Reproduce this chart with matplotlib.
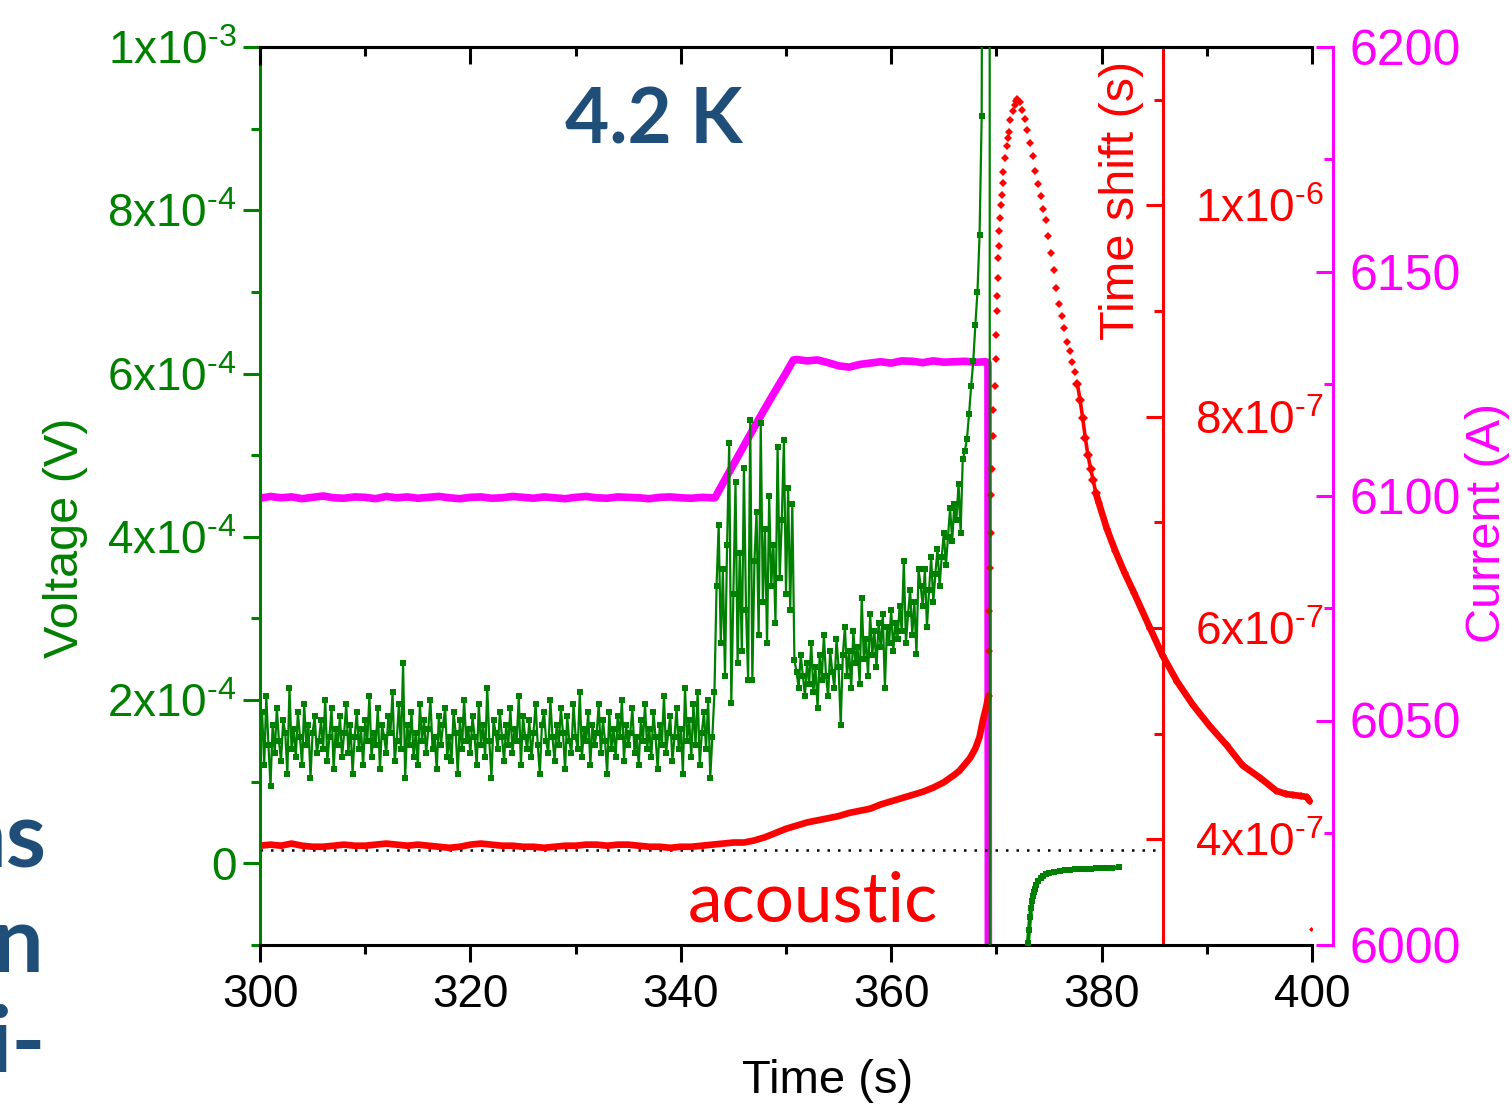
import numpy as np
import matplotlib
matplotlib.use("Agg")
import matplotlib.pyplot as plt
from matplotlib.ticker import MultipleLocator, FixedLocator, FixedFormatter, StrMethodFormatter
from matplotlib.mathtext import MathTextParser

GREEN = "#008000"
RED = "#FF0000"
MAGENTA = "#FF00FF"
NAVY = "#1F4E79"

plt.rcParams["font.family"] = ["Liberation Sans", "DejaVu Sans"]
plt.rcParams["mathtext.fontset"] = "custom"
plt.rcParams["mathtext.rm"] = "Liberation Sans"
plt.rcParams["mathtext.it"] = "Liberation Sans"
plt.rcParams["mathtext.bf"] = "Liberation Sans:bold"

# ---------------- Voltage (units of 1e-4 V), sampled every 0.2 s from 300 s
volt_step = 0.2
volt_quiet = [
    1.55, 1.85, 1.20, 2.05, 1.45, 0.95, 1.70, 1.35, 1.90, 1.50,
    1.25, 1.75, 1.60, 1.10, 2.15, 1.40, 1.65, 1.30, 1.85, 1.55,
    1.20, 1.95, 1.45, 1.70, 1.05, 1.60, 1.80, 1.35, 1.50, 1.75,
    1.40, 2.00, 1.25, 1.55, 1.90, 1.15, 1.65, 1.45, 1.80, 1.30,
    1.60, 1.95, 1.35, 1.70, 1.10, 1.55, 1.85, 1.40, 1.65, 1.20,
    1.75, 1.50, 2.05, 1.30, 1.60, 1.45, 1.90, 1.15, 1.70, 1.55,
    1.35, 1.80, 1.60, 2.10, 1.25, 1.50, 1.95, 1.40, 2.45, 1.05,
    1.70, 1.45, 1.85, 1.30, 1.60, 1.20, 1.95, 1.50, 1.75, 1.35,
    1.65, 2.00, 1.40, 1.55, 1.15, 1.80, 1.45, 1.70, 1.90, 1.30,
    1.55, 1.25, 1.85, 1.60, 1.10, 1.75, 1.40, 2.00, 1.50, 1.65,
    1.35, 1.80, 1.55, 1.20, 1.95, 1.45, 1.70, 1.30, 2.15, 1.50,
    1.05, 1.75, 1.60, 1.40, 1.85, 1.55, 1.25, 1.70, 1.45, 1.90,
    1.35, 1.65, 1.50, 2.05, 1.20, 1.80, 1.55, 1.40, 1.75, 1.30,
    1.60, 1.95, 1.45, 1.10, 1.70, 1.85, 1.50, 1.35, 2.00, 1.55,
    1.25, 1.70, 1.45, 1.90, 1.60, 1.15, 1.80, 1.50, 1.35, 1.95,
    1.55, 1.40, 2.10, 1.30, 1.65, 1.50, 1.85, 1.20, 1.70, 1.45,
    1.60, 1.95, 1.35, 1.75, 1.50, 1.10, 1.85, 1.40, 1.65, 1.30,
    1.80, 1.55, 2.00, 1.25, 1.70, 1.45, 1.60, 1.90, 1.35, 1.55,
    1.20, 1.75, 1.50, 1.95, 1.40, 1.65, 1.30, 1.85, 1.55, 1.15,
    1.70, 1.45, 2.05, 1.35, 1.60, 1.80, 1.25, 1.55, 1.90, 1.40,
    1.65, 1.10, 2.15, 1.50, 1.75, 1.30, 1.95, 1.45, 2.10, 1.20,
    1.60, 1.85, 1.40, 2.00, 1.05,
]
volt_ramp = [
    1.55, 2.10, 3.40, 4.15, 2.70, 3.60, 2.30, 3.90, 5.15, 1.97,
    3.30, 4.67, 2.46, 3.80, 2.60, 4.84, 3.10, 2.25, 5.43, 2.24,
    3.70, 4.30, 2.80, 5.39, 3.20, 4.10, 2.70, 4.50, 3.40, 3.90,
    2.95, 5.10, 3.50, 4.20, 5.18, 3.30, 4.60, 3.10, 4.40,
]
volt_flat = [
    2.49, 2.35, 2.15, 2.55, 2.30, 2.05, 2.45, 2.20, 2.70, 2.10,
    2.40, 1.90, 2.55, 2.25, 2.80, 2.30, 2.05, 2.60, 2.35, 2.15,
    2.75, 2.40, 1.70, 2.55, 2.90, 2.30, 2.60, 2.15, 2.85, 2.45,
    2.65, 2.20, 3.25, 2.50, 2.75, 2.30, 3.05, 2.55, 2.85, 2.40,
    2.95, 2.65, 3.05, 2.15, 2.90, 2.70, 3.10, 2.60, 2.95, 2.75,
    3.15, 2.85, 3.70, 2.70, 3.05, 3.35, 2.80, 3.20, 2.57, 3.60,
    3.40, 3.15, 3.60, 2.90, 3.35, 3.75, 3.20, 3.55, 3.85, 3.40,
    3.75, 4.05, 3.65, 4.00, 4.35, 3.95, 4.40, 4.20, 4.65, 4.05,
    4.95, 5.05, 5.20, 5.50, 5.85, 6.15, 6.60, 7.00, 7.70, 9.15,
]
# runaway: the signal leaves the scale and comes back below it
volt_runaway_t = [368.8, 369.35, 369.4]
volt_runaway_v = [20.0, 20.0, -20.0]
# recovery after the quench
volt_rec_t = [373.0, 373.1, 373.2, 373.3, 373.4, 373.5, 373.6, 373.7, 373.8,
              374.0, 374.2, 374.4, 374.7, 375.0, 375.5, 376.0, 376.5, 377.0,
              377.5, 378.0, 378.5, 379.0, 379.5, 380.0, 380.5, 381.0, 381.7]
volt_rec_v = [-0.97, -0.82, -0.66, -0.55, -0.46, -0.40, -0.35, -0.31, -0.27,
              -0.22, -0.18, -0.16, -0.13, -0.12, -0.10, -0.09, -0.085, -0.08,
              -0.075, -0.07, -0.07, -0.065, -0.06, -0.06, -0.055, -0.055, -0.05]

# ---------------- Current (A)
cur_hold1 = [
    6099.5, 6099.9, 6099.6, 6099.8, 6099.4, 6099.7, 6100.0, 6099.6, 6099.5, 6099.8,
    6099.7, 6099.4, 6099.9, 6099.6, 6099.8, 6099.5, 6099.7, 6099.9, 6099.6, 6099.4,
    6099.7, 6099.8, 6099.5, 6099.6, 6099.9, 6099.7, 6099.5, 6099.8, 6099.6, 6099.4,
    6099.7, 6099.9, 6099.6, 6099.5, 6099.8, 6099.7, 6099.6, 6099.4, 6099.7, 6099.8,
    6099.6, 6099.5, 6099.7, 6099.6,
]  # one reading per second, 300 s .. 343 s
cur_ramp_t = [343.25, 344.0, 345.0, 346.0, 347.0, 348.0, 349.0, 350.0, 350.7]
cur_ramp_v = [6099.6, 6102.8, 6107.0, 6111.2, 6115.4, 6119.5, 6123.5, 6127.4, 6130.3]
cur_hold2_t = [351, 352, 353, 354, 355, 356, 357, 358, 359, 360,
               361, 362, 363, 364, 365, 366, 367, 368, 369, 369.2, 369.25]
cur_hold2_v = [6130.4, 6130.1, 6130.3, 6129.7, 6129.0, 6128.7, 6129.3, 6129.6, 6129.9,
               6129.6, 6130.1, 6130.0, 6129.7, 6130.1, 6129.8, 6129.9, 6130.0, 6129.8,
               6129.9, 6129.6, 5950.0]

# ---------------- Acoustic time shift (units of 1e-7 s)
shift_base = [
    3.94, 3.95, 3.94, 3.96, 3.94, 3.93, 3.93, 3.94, 3.95, 3.94,
    3.94, 3.95, 3.96, 3.95, 3.94, 3.95, 3.94, 3.93, 3.92, 3.93,
    3.95, 3.96, 3.95, 3.94, 3.94, 3.93, 3.93, 3.92, 3.93, 3.94,
    3.94, 3.95, 3.95, 3.94, 3.95, 3.95, 3.94, 3.93, 3.93, 3.92,
    3.93, 3.93, 3.94, 3.95, 3.96, 3.97,
]  # one reading per second, 300 s .. 345 s
shift_rise_t = [346, 347, 348, 349, 350, 351, 352, 353, 354, 355, 356, 357, 358, 359,
                360, 361, 362, 363, 364, 365, 366, 366.5, 367, 367.5, 368, 368.4, 368.7, 369.0]
shift_rise_v = [3.97, 3.99, 4.02, 4.06, 4.10, 4.13, 4.16, 4.18, 4.20, 4.22, 4.25, 4.27,
                4.29, 4.33, 4.36, 4.39, 4.42, 4.45, 4.49, 4.54, 4.61, 4.65, 4.71, 4.77,
                4.86, 4.97, 5.12, 5.24]
shift_jump_t = [369.25, 369.30, 369.34, 369.39, 369.44, 369.53, 369.58, 369.65, 369.71, 369.87,
                369.96, 370.00, 370.03, 370.09, 370.12, 370.18, 370.22, 370.28, 370.34, 370.41,
                370.50, 370.60, 370.66, 370.82, 370.98, 371.10, 371.23, 371.29, 371.61, 371.77,
                371.86, 371.99]
shift_jump_v = [5.36, 5.78, 6.16, 6.57, 6.90, 7.26, 7.51, 7.82, 8.06, 8.29,
                8.55, 8.77, 9.00, 9.14, 9.31, 9.50, 9.62, 9.76, 9.88, 10.00,
                10.10, 10.21, 10.32, 10.45, 10.56, 10.64, 10.70, 10.81, 10.89, 10.95,
                10.99, 11.01]
shift_fall_t = [372.2, 372.45, 372.7, 372.95, 373.2, 373.45, 373.7, 373.95, 374.2, 374.45,
                374.7, 374.95, 375.2, 375.45, 375.7, 375.95, 376.2, 376.45, 376.7, 376.95,
                377.2, 377.45]
shift_fall_v = [10.98, 10.90, 10.82, 10.71, 10.59, 10.47, 10.33, 10.20, 10.09, 9.97,
                9.86, 9.71, 9.55, 9.39, 9.22, 9.07, 8.95, 8.84, 8.71, 8.62,
                8.52, 8.42]
shift_tail_t = [377.7, 377.95, 378.2, 378.45, 378.7, 378.95, 379.2, 379.45,
                379.75, 380.5, 381.3, 382.2, 383.1, 384.6, 385.8, 387.2, 388.7, 390.3,
                391.9, 393.4, 395.1, 396.6, 397.5, 398.2, 399.0, 399.5, 399.8]
shift_tail_v = [8.31, 8.16, 7.99, 7.80, 7.64, 7.51, 7.40, 7.28,
                7.18, 6.94, 6.73, 6.52, 6.33, 6.00, 5.74, 5.49, 5.27, 5.07,
                4.89, 4.70, 4.58, 4.46, 4.43, 4.42, 4.41, 4.40, 4.36]
shift_last_t = [399.9]
shift_last_v = [3.15]
shift_ref = 3.90  # reference level of the acoustic signal (1e-7 s)

# ---------------- axis ticks
x_ticks = [300, 320, 340, 360, 380, 400]
volt_ticks = [0, 2e-4, 4e-4, 6e-4, 8e-4, 1e-3]
volt_mant_exp = [(2, 4), (4, 4), (6, 4), (8, 4), (1, 3)]
shift_ticks = [4e-7, 6e-7, 8e-7, 1e-6]
shift_mant_exp = [(4, 7), (6, 7), (8, 7), (1, 6)]
cur_ticks = [6000, 6050, 6100, 6150, 6200]


def _hyphen_ok():
    try:
        MathTextParser("agg").parse(r"$\mathregular{1x10^{\text{-}3}}$", dpi=100)
        return True
    except Exception:
        return False


_HYPHEN = r"\text{-}" if _hyphen_ok() else "-"


def sci_label(m, e):
    return r"$\mathregular{%dx10^{%s%d}}$" % (m, _HYPHEN, e)


volt_tick_labels = ["0"] + [sci_label(m, e) for m, e in volt_mant_exp]
shift_tick_labels = [sci_label(m, e) for m, e in shift_mant_exp]

# ---------------- assemble arrays
volt_all = np.array(volt_quiet + volt_ramp + volt_flat)
volt_t = 300.0 + volt_step * np.arange(len(volt_all))
volt_line_t = np.concatenate([volt_t, volt_runaway_t])
volt_line_v = np.concatenate([volt_all, volt_runaway_v]) * 1e-4

cur_t = np.concatenate([300.0 + np.arange(len(cur_hold1)), cur_ramp_t, cur_hold2_t])
cur_v = np.concatenate([cur_hold1, cur_ramp_v, cur_hold2_v])

shift_line1_t = np.concatenate([300.0 + np.arange(len(shift_base)), shift_rise_t, shift_jump_t[:1]])
shift_line1_v = np.concatenate([shift_base, shift_rise_v, shift_jump_v[:1]]) * 1e-7

# ---------------- figure
W, H = 1512, 1105
fig = plt.figure(figsize=(W / 100, H / 100), dpi=100)
ax = fig.add_axes([260 / W, 160 / H, 1052 / W, 898 / H])
ax_m = ax.twinx()
ax_r = ax.twinx()
ax.set_zorder(3)
ax.patch.set_visible(False)
ax_r.set_zorder(2)
ax_m.set_zorder(1)

LW = 2.2
# --- current
ax_m.plot(cur_t, cur_v, color=MAGENTA, lw=5.5, solid_joinstyle="round", zorder=2)
ax_m.set_ylim(6000, 6200)

# --- time shift
ax_r.plot([300, 385.85], [shift_ref * 1e-7] * 2, color="black", lw=1.8,
          linestyle=(0, (1, 3.2)), zorder=1)
ax_r.plot(shift_line1_t, shift_line1_v, color=RED, lw=4.8, solid_capstyle="round", zorder=3)
ax_r.plot(shift_jump_t, np.array(shift_jump_v) * 1e-7, linestyle="none", marker="D",
          ms=3.8, color=RED, mew=0, zorder=3)
ax_r.plot(shift_fall_t, np.array(shift_fall_v) * 1e-7, linestyle="none", marker="D",
          ms=4.0, color=RED, mew=0, zorder=3)
ax_r.plot(shift_tail_t[:8], np.array(shift_tail_v[:8]) * 1e-7, color=RED, lw=2.6,
          marker="D", ms=4.6, mew=0, zorder=3)
ax_r.plot(shift_tail_t[7:], np.array(shift_tail_v[7:]) * 1e-7, color=RED, lw=4.8,
          solid_capstyle="round", marker="D", ms=4.0, mew=0, zorder=3)
ax_r.plot(shift_last_t, np.array(shift_last_v) * 1e-7, linestyle="none", marker="D",
          ms=2.5, color=RED, mew=0, zorder=3)
ax_r.set_ylim(3.0e-7, 1.15e-6)

# --- voltage
ax.plot(volt_line_t, volt_line_v, color=GREEN, lw=1.6, marker="s", ms=4.8, mew=0, zorder=4)
ax.plot(volt_rec_t, np.array(volt_rec_v) * 1e-4, color=GREEN, lw=3.0, marker="s",
        ms=4.6, mew=0, zorder=4)
ax.set_xlim(300, 400)
ax.set_ylim(-1e-4, 1e-3)

# ---------------- spines
for side in ("left", "top", "bottom"):
    ax_m.spines[side].set_visible(False)
    ax_r.spines[side].set_visible(False)
ax.spines["right"].set_visible(False)
ax.spines["top"].set_linewidth(LW)
ax.spines["bottom"].set_linewidth(LW)
ax.spines["left"].set_linewidth(LW)
ax.spines["left"].set_color(GREEN)
ax.spines["left"].set_bounds(-1e-4, 9.78e-4)
ax.plot([300, 300], [9.78e-4, 1e-3], color="black", lw=LW, clip_on=False, zorder=5,
        solid_capstyle="butt")

ax_r.spines["right"].set_position(("axes", 903 / 1052))
ax_r.spines["right"].set_color(RED)
ax_r.spines["right"].set_linewidth(LW)
ax_m.spines["right"].set_position(("axes", 1073 / 1052))
ax_m.spines["right"].set_color(MAGENTA)
ax_m.spines["right"].set_linewidth(LW)

# ---------------- ticks
TICK_FS = 33
ax.xaxis.set_major_locator(FixedLocator(x_ticks))
ax.xaxis.set_minor_locator(MultipleLocator(10))
ax.xaxis.set_major_formatter(StrMethodFormatter("{x:.0f}"))
ax.tick_params(axis="x", which="both", direction="out", width=LW, colors="black",
               labelsize=TICK_FS, pad=8, top=False)
ax.tick_params(axis="x", which="major", length=12.5)
ax.tick_params(axis="x", which="minor", length=6.5)

top = ax.secondary_xaxis("top")
top.xaxis.set_major_locator(FixedLocator(x_ticks))
top.xaxis.set_minor_locator(MultipleLocator(10))
top.tick_params(axis="x", which="both", direction="in", width=LW, labeltop=False)
top.tick_params(axis="x", which="major", length=12.5)
top.tick_params(axis="x", which="minor", length=6.5)
top.spines["top"].set_linewidth(LW)

ax.yaxis.set_major_locator(FixedLocator(volt_ticks))
ax.yaxis.set_major_formatter(FixedFormatter(volt_tick_labels))
ax.yaxis.set_minor_locator(MultipleLocator(1e-4))
ax.tick_params(axis="y", which="both", direction="out", width=LW, colors=GREEN,
               labelsize=TICK_FS, pad=4, right=False)
ax.tick_params(axis="y", which="major", length=12.5)
ax.tick_params(axis="y", which="minor", length=6.5)

ax_r.yaxis.set_major_locator(FixedLocator(shift_ticks))
ax_r.yaxis.set_major_formatter(FixedFormatter(shift_tick_labels))
ax_r.yaxis.set_minor_locator(MultipleLocator(1e-7))
ax_r.tick_params(axis="y", which="both", direction="in", width=LW, colors=RED,
                 labelsize=TICK_FS, pad=23)
ax_r.tick_params(axis="y", which="major", length=12.5)
ax_r.tick_params(axis="y", which="minor", length=6.5)

ax_m.yaxis.set_major_locator(FixedLocator(cur_ticks))
ax_m.yaxis.set_major_formatter(StrMethodFormatter("{x:.0f}"))
ax_m.yaxis.set_minor_locator(MultipleLocator(25))
ax_m.tick_params(axis="y", which="both", direction="in", width=LW, colors=MAGENTA,
                 labelsize=36, pad=12)
ax_m.tick_params(axis="y", which="major", length=12.5)
ax_m.tick_params(axis="y", which="minor", length=6.5)


# ---------------- labels and annotations (figure pixel positions)
def fx(px):
    return px / W


def fy(py):
    return 1 - py / H


fig.text(fx(828), fy(1093), "Time (s)", ha="center", va="baseline", fontsize=34, color="black")
fig.text(fx(66), fy(538), "Voltage (V)", rotation=90, ha="center", va="center",
         fontsize=35, color=GREEN)
fig.text(fx(1122), fy(200), "Time shift (s)", rotation=90, ha="center", va="center",
         fontsize=35, color=RED)
fig.text(fx(1487), fy(523), "Current (A)", rotation=90, ha="center", va="center",
         fontsize=35, color=MAGENTA)

fig.text(fx(565), fy(143), "4.2 K", ha="left", va="baseline", fontsize=55,
         fontweight="bold", family=["Lato", "DejaVu Sans"], color=NAVY)
fig.text(fx(688), fy(922), "acoustic", ha="left", va="baseline", fontsize=50,
         family=["Lato", "DejaVu Sans"], color=RED)

for txt, xr, yb in (("ns", 46, 868), ("n", 43, 972), ("i-", 46, 1072)):
    fig.text(fx(xr), fy(yb), txt, ha="right", va="baseline", fontsize=66,
             fontweight="bold", family=["Lato", "DejaVu Sans"], color=NAVY)

fig.savefig("out.png", dpi=100)
